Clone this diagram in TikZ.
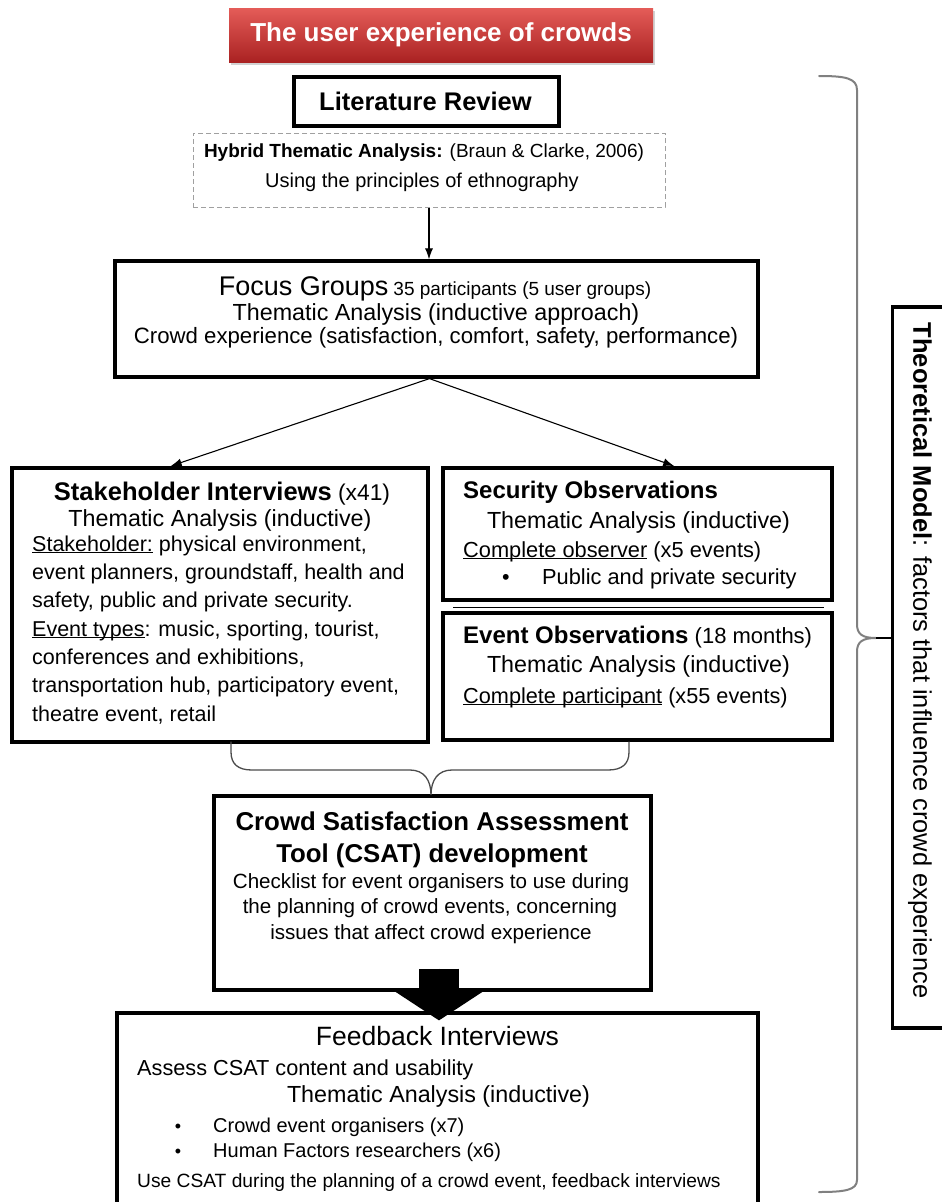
\documentclass[tikz,border=0pt]{standalone}
\usepackage{fontspec}
\setmainfont{Liberation Sans}
\usetikzlibrary{arrows.meta,calc,shadows}
\newcommand\fsz[1]{\fontsize{#1pt}{#1pt}\selectfont}
% underline drawn close to the baseline
\newcommand\undl[1]{\sbox0{#1}\rlap{\rule[-2.4pt]{\wd0}{1pt}}\usebox0}
\definecolor{headtop}{RGB}{228,92,88}
\definecolor{headbot}{RGB}{170,34,34}
\definecolor{bracegray}{RGB}{128,128,128}
\definecolor{dashgray}{RGB}{160,160,160}
\begin{document}
\begin{tikzpicture}[x=1pt,y=-1pt,
  box/.style={draw=black, line width=3.2pt, fill=white, inner sep=0pt},
  txt/.style={inner sep=0pt, anchor=base},
  ltxt/.style={inner sep=0pt, anchor=base west},
  flow/.style={draw=black, line width=1.1pt, -{Latex[length=11pt,width=8pt]}},
  bigflow/.style={draw=black, fill=black, line width=40pt, -{Triangle[length=30pt,width=90pt]}},
  bracepath/.style={draw=bracegray, line width=2pt, line cap=round},
  smallbrace/.style={draw=black!70, line width=1.3pt, line cap=round}
]
\useasboundingbox (0,0) rectangle (942,1202);
\fill[white] (0,0) rectangle (942,1202);

% heading banner
\node[minimum width=424pt, minimum height=54pt, inner sep=0pt,
      top color=headtop, bottom color=headbot,
      drop shadow={opacity=0.35, shadow xshift=2pt, shadow yshift=-3pt},
      text=white, font=\bfseries\fsz{26}] (head) at (441,35) {The user experience of crowds};

% literature review
\node[box, minimum width=265pt, minimum height=49pt] (lit) at (426.5,101.5) {};
\node[txt, font=\bfseries\fsz{25.5}] (littxt) at (425.5,110) {Literature Review};

% hybrid thematic analysis (dashed)
\node[draw=dashgray, line width=1pt, dash pattern=on 5pt off 3pt, minimum width=472pt, minimum height=74pt, inner sep=0pt] (dash) at (429,170) {};
\node[txt, font=\fsz{19}] (dash1) at (424,157) {\textbf{Hybrid Thematic Analysis:} (Braun \& Clarke, 2006)};
\node[txt, font=\fsz{20}] (dash2) at (422,187) {Using the principles of ethnography};

% focus groups
\node[box, minimum width=643pt, minimum height=116pt] (focus) at (436.5,319) {};
\node[txt] (foc1) at (435,295) {{\fsz{27}Focus Groups}\hspace{5pt}{\fsz{19}35 participants (5 user groups)}};
\node[txt, font=\fsz{23.3}] (foc2) at (436,320) {Thematic Analysis (inductive approach)};
\node[txt, font=\fsz{22.2}] (foc3) at (436,343) {Crowd experience (satisfaction, comfort, safety, performance)};

% stakeholder interviews
\node[box, minimum width=416pt, minimum height=274pt] (stake) at (220,605) {};
\node[txt] (stk0) at (222,500) {{\bfseries\fsz{25.5}Stakeholder Interviews}{\fsz{22.8} (x41)}};
\node[txt, font=\fsz{23.3}] (stk1) at (220,526) {Thematic Analysis (inductive)};
\node[ltxt, font=\fsz{21.5}] (stk2) at (32,551) {\undl{Stakeholder:} physical environment,};
\node[ltxt, font=\fsz{21.5}] (stk3) at (32,579) {event planners, groundstaff, health and};
\node[ltxt, font=\fsz{21.5}] (stk4) at (32,607.5) {safety, public and private security.};
\node[ltxt, font=\fsz{21.5}] (stk5) at (32,636) {\undl{Event types}: music, sporting, tourist,};
\node[ltxt, font=\fsz{21.5}] (stk6) at (32,664) {conferences and exhibitions,};
\node[ltxt, font=\fsz{21.5}] (stk7) at (32,692.5) {transportation hub, participatory event,};
\node[ltxt, font=\fsz{21.5}] (stk8) at (32,721) {theatre event, retail};

% security observations
\node[box, minimum width=389pt, minimum height=132pt] (secu) at (637.5,534) {};
\node[ltxt, font=\bfseries\fsz{24}] (sec1) at (463,498) {Security Observations};
\node[txt, font=\fsz{23.3}] (sec2) at (638.5,528) {Thematic Analysis (inductive)};
\node[ltxt, font=\fsz{21.8}] (sec3) at (463,557) {\undl{Complete observer} (x5 events)};
\node[txt, font=\fsz{21.5}] (secb) at (506,584) {•};
\node[ltxt, font=\fsz{21.8}] (sec4) at (542,584) {Public and private security};

% event observations
\node[box, minimum width=389pt, minimum height=127pt] (event) at (637.5,676.5) {};
\draw[line width=1.2pt] ([xshift=12pt,yshift=4pt]event.north west) -- ([xshift=-10pt,yshift=4pt]event.north east);
\node[ltxt] (evt1) at (463,643) {{\bfseries\fsz{24}Event Observations}{\fsz{22} (18 months)}};
\node[txt, font=\fsz{23.3}] (evt2) at (638.5,672) {Thematic Analysis (inductive)};
\node[ltxt, font=\fsz{21.7}] (evt3) at (463,703) {\undl{Complete participant} (x55 events)};

% CSAT development
\node[box, minimum width=437pt, minimum height=194pt] (csat) at (432.5,893) {};
\node[txt, font=\bfseries\fsz{25.8}] (cs1) at (432,830) {Crowd Satisfaction Assessment};
\node[txt, font=\bfseries\fsz{25.8}] (cs2) at (432,862) {Tool (CSAT) development};
\node[txt, font=\fsz{20.6}] (cs3) at (431,888) {Checklist for event organisers to use during};
\node[txt, font=\fsz{20.6}] (cs4) at (430,913) {the planning of crowd events, concerning};
\node[txt, font=\fsz{20.6}] (cs5) at (431,939) {issues that affect crowd experience};

% feedback interviews
\node[box, minimum width=641pt, minimum height=220pt] (fb) at (437.5,1123) {};
\node[txt, font=\fsz{26.5}] (fb1) at (437.5,1045) {Feedback Interviews};
\node[ltxt, font=\fsz{21.7}] (fb2) at (137,1075) {Assess CSAT content and usability};
\node[txt, font=\fsz{23.3}] (fb3) at (438.5,1102) {Thematic Analysis (inductive)};
\node[txt, font=\fsz{18}] (fbb1) at (178,1132) {•};
\node[ltxt, font=\fsz{20}] (fb4) at (213,1132) {Crowd event organisers (x7)};
\node[txt, font=\fsz{18}] (fbb2) at (178,1157) {•};
\node[ltxt, font=\fsz{20}] (fb5) at (213,1157) {Human Factors researchers (x6)};
\node[ltxt, font=\fsz{19.2}] (fb6) at (137,1187) {Use CSAT during the planning of a crowd event, feedback interviews};

% theoretical model
\node[box, minimum width=55pt, minimum height=721pt] (theo) at (920,667.5) {};
\node[rotate=-90, inner sep=0pt, font=\fsz{25.5}] (theotxt) at (920,660.5) {\textbf{Theoretical Model}: factors that influence crowd experience};

% connectors
\draw[flow] (dash.south) -- (dash.south |- focus.north);
\draw[flow, shorten >=1pt] ([xshift=-7pt]focus.south) -- ($(stake.north west)!0.38!(stake.north east)$);
\draw[flow, shorten >=1pt] ([xshift=-7pt]focus.south) -- ($(secu.north west)!0.596!(secu.north east)$);
\draw[bigflow] ([xshift=6.5pt,yshift=23pt]csat.south) -- ([xshift=1.5pt,yshift=-9pt]fb.north);

% brace joining the interview and observation studies
\coordinate (bl) at (231,742);
\coordinate (br) at (629,742);
\coordinate (bt) at (431,795);
\draw[smallbrace] (bl) -- (231,752) .. controls (231,764) and (238,770) .. (252,770) -- (410,770)
  .. controls (424,770) and (431,780) .. (bt)
  .. controls (431,780) and (438,770) .. (452,770) -- (608,770)
  .. controls (622,770) and (629,764) .. (629,752) -- (br);

% brace spanning the whole study
\coordinate (rtip) at (876,638);
\draw[bracepath] (819,76) .. controls (845,76) and (857,78) .. (857,90) -- (857,624)
  .. controls (857,634) and (862,638) .. (rtip)
  .. controls (862,638) and (857,642) .. (857,652) -- (857,1180)
  .. controls (857,1190) and (845,1192) .. (819,1192);
\draw[line width=1.5pt] (rtip) -- (rtip -| theo.west);
\end{tikzpicture}
\end{document}
